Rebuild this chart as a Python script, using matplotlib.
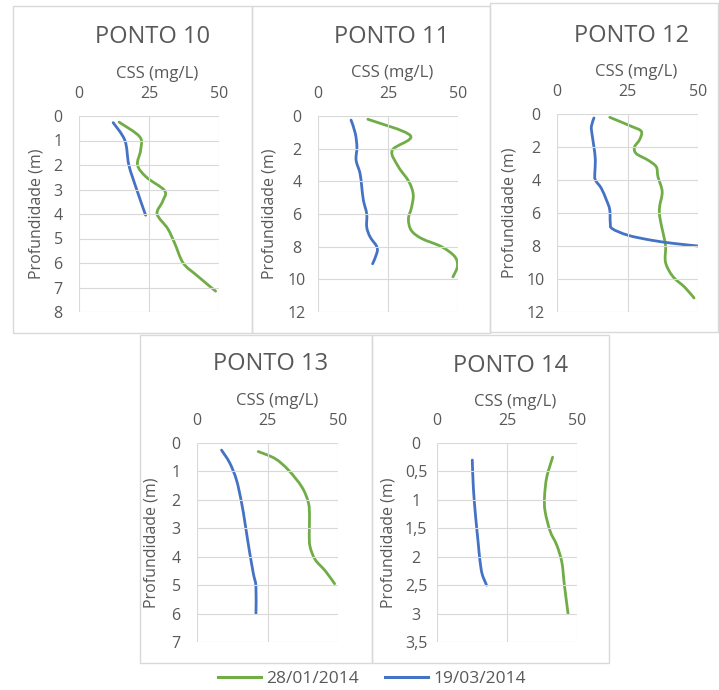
import matplotlib.pyplot as plt
from matplotlib.path import Path
from matplotlib.patches import PathPatch, Rectangle
from matplotlib.lines import Line2D

plt.rcParams['font.family'] = ['Open Sans', 'DejaVu Sans']

# perfis de CSS por ponto: 28/01/2014 (jan) e 19/03/2014 (mar)
p10_depth_jan = [0.25, 0.85, 1.4, 2.0, 2.5, 3.05, 3.5, 4.0, 4.6, 5.2, 6.0, 6.5, 7.15]
p10_css_jan = [14.3, 21.7, 22.0, 20.9, 24.1, 30.6, 29.8, 27.9, 31.7, 34.2, 37.2, 42.0, 48.8]
p10_depth_mar = [0.27, 1.0, 2.0, 3.0, 4.05]
p10_css_mar = [12.2, 16.4, 17.8, 20.6, 23.8]

p11_depth_jan = [0.2, 1.2, 2.1, 3.1, 4.0, 4.8, 5.6, 6.3, 7.0, 7.5, 8.0, 8.6, 9.2, 9.85]
p11_css_jan = [17.8, 33.0, 26.5, 28.7, 32.4, 34.0, 33.4, 32.3, 33.3, 37.0, 44.1, 48.8, 49.8, 48.2]
p11_depth_mar = [0.25, 1.05, 1.9, 2.7, 3.5, 4.3, 5.15, 6.0, 6.8, 7.4, 8.0, 8.4, 9.05]
p11_css_mar = [11.8, 13.3, 13.9, 13.6, 15.0, 15.6, 16.2, 17.4, 17.4, 18.6, 21.0, 21.0, 19.5]

p12_depth_jan = [0.2, 0.75, 1.05, 1.55, 2.0, 2.4, 2.8, 3.2, 3.8, 4.7, 5.6, 6.2, 7.2, 8.0, 9.0, 9.85, 10.5, 11.15]
p12_css_jan = [18.7, 26.4, 29.9, 29.3, 27.5, 28.1, 32.3, 35.2, 35.8, 37.3, 36.4, 36.4, 37.6, 38.5, 38.5, 41.1, 45.3, 48.6]
p12_depth_mar = [0.24, 0.75, 1.2, 2.0, 2.8, 3.6, 4.0, 4.5, 5.2, 5.8, 6.6, 6.95, 7.35, 7.65, 7.85, 8.0]
p12_css_mar = [13.1, 12.2, 12.4, 13.1, 13.6, 13.4, 13.6, 15.7, 17.5, 18.7, 18.9, 19.6, 25.2, 33.5, 41.7, 50.0]

p13_depth_jan = [0.3, 0.55, 0.95, 1.55, 2.1, 2.6, 3.2, 3.65, 4.1, 4.5, 4.95]
p13_css_jan = [21.7, 27.7, 32.4, 37.2, 39.5, 39.9, 39.8, 40.1, 41.9, 45.5, 48.8]
p13_depth_mar = [0.25, 0.7, 1.3, 2.1, 2.8, 3.75, 4.6, 5.05, 6.0]
p13_css_mar = [8.7, 11.6, 14.0, 15.8, 17.0, 18.5, 20.0, 20.9, 20.9]

p14_depth_jan = [0.25, 0.6, 0.95, 1.2, 1.55, 1.8, 2.1, 2.5, 3.0]
p14_css_jan = [41.3, 39.2, 38.4, 38.6, 40.4, 42.8, 44.6, 45.5, 46.8]
p14_depth_mar = [0.3, 0.8, 1.3, 1.75, 2.05, 2.3, 2.5]
p14_css_mar = [12.6, 13.0, 13.8, 14.7, 15.3, 16.1, 17.7]

titles = ['PONTO 10', 'PONTO 11', 'PONTO 12', 'PONTO 13', 'PONTO 14']
labels = ['28/01/2014', '19/03/2014']
x_ticks = [0, 25, 50]
depth_ticks = [
    list(range(0, 9)),
    list(range(0, 13, 2)),
    list(range(0, 13, 2)),
    list(range(0, 8)),
    [0, 0.5, 1, 1.5, 2, 2.5, 3, 3.5],
]
series = [
    (p10_depth_jan, p10_css_jan, p10_depth_mar, p10_css_mar),
    (p11_depth_jan, p11_css_jan, p11_depth_mar, p11_css_mar),
    (p12_depth_jan, p12_css_jan, p12_depth_mar, p12_css_mar),
    (p13_depth_jan, p13_css_jan, p13_depth_mar, p13_css_mar),
    (p14_depth_jan, p14_css_jan, p14_depth_mar, p14_css_mar),
]

GREEN = '#70ad47'
BLUE = '#4472c4'
TXT = '#595959'
GRID = '#d9d9d9'

W, H = 719, 690
fig = plt.figure(figsize=(W / 100, H / 100), dpi=100)


def fx(px):
    return px / W


def fy(py):
    return 1 - py / H


# area de plotagem de cada grafico em pixels (x0, y0, x1, y1)
plot_boxes = [
    (79, 116, 219, 312),
    (318, 116, 458, 312),
    (557, 114, 698, 312),
    (197, 443, 338, 642),
    (437, 443, 577, 642),
]
title_base = [43, 43.3, 41.7, 370, 371.7]
xlabel_pos = [(157.5, 78.3), (392, 77), (636, 76), (277, 405), (515, 406)]
ylabel_x = [36.7, 269.5, 510, 152, 389]

# molduras dos graficos
frames = [
    (13, 6, 252, 333),
    (252, 6, 490, 333),
    (490, 3, 718, 332),
    (140, 335, 372, 663),
    (372, 335, 609, 663),
]
for x0, y0, x1, y1 in frames:
    fig.add_artist(Rectangle((fx(x0), fy(y1)), fx(x1) - fx(x0), fy(y0) - fy(y1),
                             transform=fig.transFigure, fill=False,
                             edgecolor=GRID, lw=1))


def smooth_path(xs, ys):
    # curva suavizada (Catmull-Rom em Bezier), como a linha suavizada do Excel
    pts = list(zip(xs, ys))
    verts = [pts[0]]
    codes = [Path.MOVETO]
    n = len(pts)
    for i in range(n - 1):
        p0 = pts[i - 1] if i > 0 else pts[i]
        p1 = pts[i]
        p2 = pts[i + 1]
        p3 = pts[i + 2] if i + 2 < n else pts[i + 1]
        c1 = (p1[0] + (p2[0] - p0[0]) / 6, p1[1] + (p2[1] - p0[1]) / 6)
        c2 = (p2[0] - (p3[0] - p1[0]) / 6, p2[1] - (p3[1] - p1[1]) / 6)
        verts += [c1, c2, p2]
        codes += [Path.CURVE4] * 3
    return Path(verts, codes)


for k in range(5):
    x0, y0, x1, y1 = plot_boxes[k]
    ax = fig.add_axes([fx(x0), fy(y1), fx(x1) - fx(x0), fy(y0) - fy(y1)])
    dj, cj, dm, cm = series[k]
    ax.add_patch(PathPatch(smooth_path(cj, dj), fill=False, edgecolor=GREEN, lw=2, capstyle='round'))
    ax.add_patch(PathPatch(smooth_path(cm, dm), fill=False, edgecolor=BLUE, lw=2, capstyle='round'))

    ticks = depth_ticks[k]
    ax.set_xlim(0, 50)
    ax.set_ylim(ticks[-1], 0)
    ax.set_xticks(x_ticks)
    ax.set_yticks(ticks)
    if k == 4:
        ax.set_yticklabels([str(t).replace('.', ',') if t % 1 else str(int(t)) for t in ticks])
    ax.xaxis.tick_top()
    ax.tick_params(axis='x', length=0, pad=10, labelsize=11.5, labelcolor=TXT)
    ax.tick_params(axis='y', length=0, pad=15, labelsize=11.5, labelcolor=TXT)
    for lab in ax.get_yticklabels():
        lab.set_horizontalalignment('center')
    ax.grid(True, color=GRID, lw=0.8)
    for s in ax.spines.values():
        s.set_visible(False)

    cx = (x0 + x1) / 2 + 3.5
    fig.text(fx(cx), fy(title_base[k]), titles[k], ha='center', va='baseline',
             fontsize=17, color=TXT)
    lx, ly = xlabel_pos[k]
    fig.text(fx(lx), fy(ly), 'CSS (mg/L)', ha='center', va='baseline',
             fontsize=12, color=TXT)
    fig.text(fx(ylabel_x[k]), fy((y0 + y1) / 2), 'Profundidade (m)', rotation=90,
             ha='center', va='center', fontsize=11.5, color=TXT)

handles = [Line2D([], [], color=GREEN, lw=2.2), Line2D([], [], color=BLUE, lw=2.2)]
fig.legend(handles, labels, loc='center', bbox_to_anchor=(fx(372), fy(679)),
           ncol=2, frameon=False, fontsize=12.5, labelcolor=TXT,
           handlelength=2.5, handletextpad=0.3, columnspacing=1.5)

fig.savefig('out.png', dpi=100)
